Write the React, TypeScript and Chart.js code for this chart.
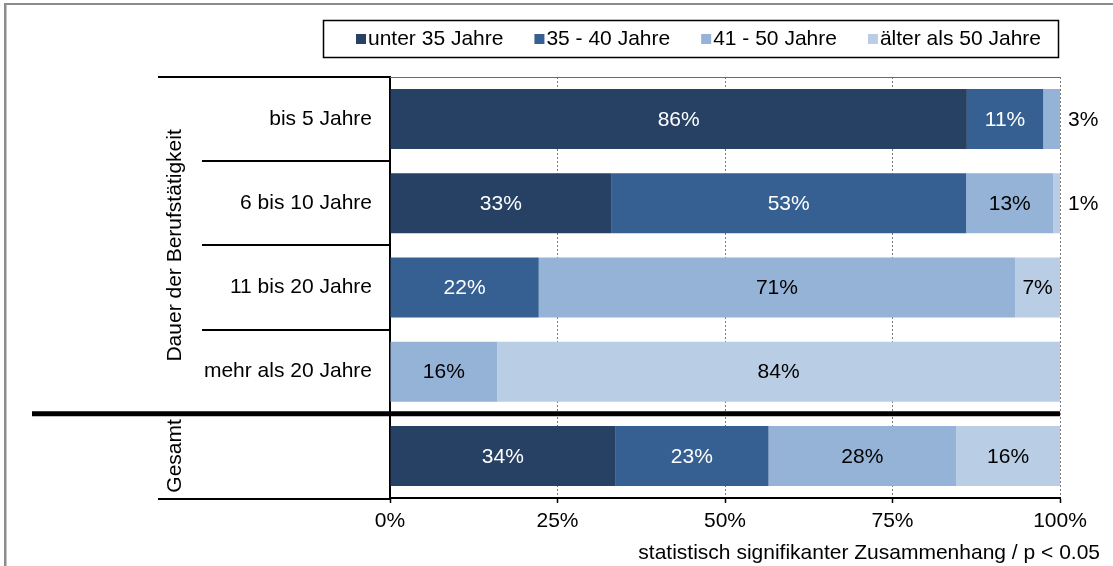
import React, { useEffect, useRef } from 'react';
import { Chart, registerables } from 'chart.js';

Chart.register(...registerables);

const categories = ['bis 5 Jahre', '6 bis 10 Jahre', '11 bis 20 Jahre', 'mehr als 20 Jahre', 'Gesamt'];
const seriesNames = ['unter 35 Jahre', '35 - 40 Jahre', '41 - 50 Jahre', 'älter als 50 Jahre'];
const under35 = [86.1, 33.0, 0, 0, 33.6];
const age35to40 = [11.4, 53.0, 22.2, 0, 22.9];
const age41to50 = [2.5, 13.0, 71.1, 16.0, 28.0];
const over50 = [0, 1.0, 6.7, 84.0, 15.5];
const xTicks = [0, 25, 50, 75, 100];
const groupLabels = ['Dauer der Berufstätigkeit', 'Gesamt'];
const groupStart = [0, 4];
const groupEnd = [3, 4];
const footnote = 'statistisch signifikanter Zusammenhang / p < 0.05';

const colors = ['#264163', '#376092', '#95B3D7', '#B9CDE5'];
const labelColors = ['#ffffff', '#ffffff', '#000000', '#000000'];
const FONT = '"Liberation Sans", Arial, sans-serif';
const FS = 21;

const decorPlugin = {
  id: 'decor',
  beforeDraw(chart: any) {
    const ctx = chart.ctx;
    ctx.save();
    ctx.fillStyle = '#ffffff';
    ctx.fillRect(0, 0, chart.width, chart.height);
    ctx.fillStyle = '#8c8c8c';
    ctx.fillRect(4, 3, 2.5, chart.height);
    ctx.fillRect(4, 3, chart.width, 2);
    ctx.restore();
  },
  afterDatasetsDraw(chart: any) {
    const ctx = chart.ctx;
    const area = chart.chartArea;
    ctx.save();
    ctx.font = `${FS}px ${FONT}`;
    ctx.textBaseline = 'middle';
    chart.data.datasets.forEach((ds: any, di: number) => {
      const meta = chart.getDatasetMeta(di);
      meta.data.forEach((bar: any, i: number) => {
        const v = ds.data[i];
        if (!v) return;
        const p = bar.getProps(['x', 'y', 'base'], true);
        const txt = Math.round(v) + '%';
        if (v < 5) {
          ctx.fillStyle = '#000';
          ctx.textAlign = 'left';
          ctx.fillText(txt, area.right + 8, p.y + 1);
        } else {
          ctx.fillStyle = labelColors[di];
          ctx.textAlign = 'center';
          ctx.fillText(txt, (p.x + p.base) / 2, p.y + 1);
        }
      });
    });
    ctx.restore();
  },
  afterDraw(chart: any) {
    const ctx = chart.ctx;
    const area = chart.chartArea;
    const ys = chart.scales.y;
    const pos = (i: number) => ys.getPixelForValue(i);
    const boundary = (i: number) => (pos(i) + pos(i + 1)) / 2;
    ctx.save();
    // top line
    ctx.strokeStyle = '#000';
    ctx.lineWidth = 2;
    ctx.beginPath();
    ctx.moveTo(158, area.top);
    ctx.lineTo(area.left, area.top);
    ctx.stroke();
    ctx.strokeStyle = '#6a6a6a';
    ctx.lineWidth = 1;
    ctx.beginPath();
    ctx.moveTo(area.left, area.top + 0.5);
    ctx.lineTo(area.right, area.top + 0.5);
    ctx.stroke();
    // row separators
    ctx.strokeStyle = '#000';
    ctx.lineWidth = 2;
    for (let i = 0; i < 3; i++) {
      const y = Math.round(boundary(i));
      ctx.beginPath();
      ctx.moveTo(202, y);
      ctx.lineTo(area.left, y);
      ctx.stroke();
    }
    // bottom extension
    ctx.beginPath();
    ctx.moveTo(158, area.bottom + 1);
    ctx.lineTo(area.left, area.bottom + 1);
    ctx.stroke();
    // thick separator
    ctx.lineWidth = 5;
    const ty = boundary(3);
    ctx.beginPath();
    ctx.moveTo(32, ty);
    ctx.lineTo(area.right, ty);
    ctx.stroke();

    // group labels
    ctx.fillStyle = '#000';
    ctx.font = `${FS}px ${FONT}`;
    ctx.textAlign = 'center';
    ctx.textBaseline = 'alphabetic';
    groupLabels.forEach((g, k) => {
      const top = groupStart[k] === 0 ? area.top : boundary(groupStart[k] - 1);
      const bot = groupEnd[k] === categories.length - 1 ? area.bottom : boundary(groupEnd[k]);
      const cy = (top + bot) / 2;
      ctx.save();
      ctx.translate(180.5, cy);
      ctx.rotate(-Math.PI / 2);
      ctx.fillText(g, 0, 0);
      ctx.restore();
    });

    // legend
    ctx.lineWidth = 1.5;
    ctx.strokeStyle = '#000';
    ctx.strokeRect(323.5, 20.5, 735, 37);
    ctx.textAlign = 'left';
    ctx.textBaseline = 'middle';
    let x = 356;
    chart.data.datasets.forEach((ds: any, di: number) => {
      ctx.fillStyle = ds.backgroundColor;
      ctx.fillRect(x, 34, 10, 10);
      ctx.fillStyle = '#000';
      ctx.fillText(ds.label, x + 12, 39.5);
      x += 12 + ctx.measureText(ds.label).width + 31;
    });

    // footnote
    ctx.textAlign = 'right';
    ctx.fillText(footnote, 1100, 553);
    ctx.restore();
  },
};

export default function App() {
  const ref = useRef<HTMLCanvasElement | null>(null);
  useEffect(() => {
    if (!ref.current) return;
    Chart.defaults.font.family = FONT;
    const series = [under35, age35to40, age41to50, over50];
    const chart = new Chart(ref.current, {
      type: 'bar',
      data: {
        labels: categories,
        datasets: series.map((d, i) => ({
          label: seriesNames[i],
          data: d,
          backgroundColor: colors[i],
          borderWidth: 0,
          categoryPercentage: 1,
          barPercentage: 0.713,
        })),
      },
      options: {
        indexAxis: 'y',
        responsive: false,
        animation: false,
        devicePixelRatio: 1,
        layout: { padding: { top: 77, right: 53, left: 0, bottom: 0 } },
        plugins: {
          legend: { display: false },
          tooltip: { enabled: false },
        },
        scales: {
          x: {
            stacked: true,
            min: 0,
            max: 100,
            afterBuildTicks: (s: any) => {
              s.ticks = xTicks.map((v) => ({ value: v }));
            },
            ticks: {
              callback: (v: any) => v + '%',
              font: { size: FS },
              color: '#000',
              padding: 6,
              maxRotation: 0,
              autoSkip: false,
            },
            grid: {
              color: '#7a7a7a',
              lineWidth: 1,
              drawTicks: true,
              tickLength: 5,
              tickColor: '#000',
              tickWidth: 1.5,
            },
            border: { display: true, color: '#000', width: 2, dash: [2, 2] },
            afterFit: (s: any) => {
              s.height = 68;
            },
          },
          y: {
            stacked: true,
            ticks: {
              font: { size: FS },
              color: '#000',
              padding: 18,
              autoSkip: false,
              callback: (_v: any, i: number) => (i === categories.length - 1 ? '' : categories[i]),
            },
            grid: { display: false, drawTicks: false },
            border: { display: true, color: '#000', width: 2 },
            afterFit: (s: any) => {
              s.width = 390;
            },
          },
        },
      },
      plugins: [decorPlugin],
    } as any);
    return () => chart.destroy();
  }, []);
  return (
    <div style={{ position: 'absolute', left: 0, top: 0, width: 1113, height: 566 }}>
      <canvas ref={ref} width={1113} height={566} style={{ display: 'block' }} />
    </div>
  );
}
